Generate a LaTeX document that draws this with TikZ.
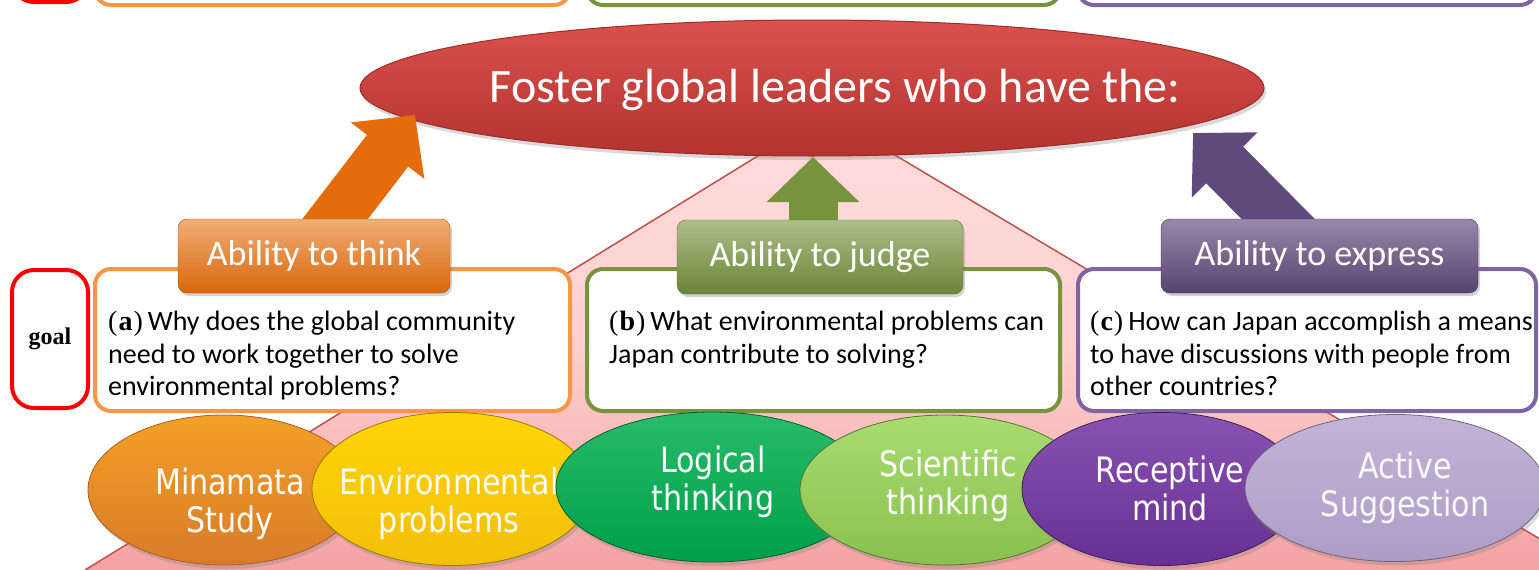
\documentclass[tikz,border=0pt]{standalone}
\usepackage{fontspec}
\setmainfont{Carlito}
\newfontfamily\bubblefont[FakeStretch=0.86]{DejaVu Sans}
\newfontfamily\markfont{Liberation Serif}
\usetikzlibrary{shapes.geometric, arrows.meta, positioning, shadows}

\definecolor{pinktop}{HTML}{FFDCDC}
\definecolor{pinkbottom}{HTML}{F5A2A2}
\definecolor{pinkedge}{HTML}{C0504D}
\definecolor{titletop}{HTML}{DA514D}
\definecolor{titlebottom}{HTML}{B3332F}
\definecolor{titleedge}{HTML}{A02B28}
\definecolor{thinkorange}{HTML}{E46C0A}
\definecolor{judgegreen}{HTML}{77933C}
\definecolor{expresspurple}{HTML}{604A7B}
\definecolor{qorange}{HTML}{F79646}
\definecolor{qgreen}{HTML}{77933C}
\definecolor{qpurple}{HTML}{8064A2}
\definecolor{minamatacol}{HTML}{F0892F}
\definecolor{envircol}{HTML}{FFC90A}
\definecolor{logiccol}{HTML}{00B050}
\definecolor{sciencecol}{HTML}{98D656}
\definecolor{receptcol}{HTML}{7334A4}
\definecolor{activecol}{HTML}{B7A6D0}

\tikzset{
  question/.style={draw, line width=4pt, rounded corners=16pt, fill=white, inner sep=0pt},
  goalbox/.style={draw=red, line width=4pt, rounded corners=22pt, inner sep=0pt,
    minimum width=76pt},
  qtext/.style={anchor=north west, align=left, inner sep=0pt,
    font=\fontsize{28}{32.5}\selectfont},
  ability/.style={rounded corners=9pt, minimum height=74pt, text=white,
    font=\fontsize{36}{40}\selectfont,
    drop shadow={opacity=0.35, shadow xshift=2pt, shadow yshift=-3pt}},
  bubble/.style={ellipse, inner sep=0pt, line width=0.8pt,
    drop shadow={opacity=0.3, shadow xshift=2pt, shadow yshift=-4pt}},
  btext/.style={text=white, align=center, inner sep=0pt,
    font=\bubblefont\fontsize{35}{38}\selectfont},
  bigarrow/.style={line width=52pt, -{Triangle[length=45pt, width=90pt]}}
}
\newcommand{\qmark}[1]{{\markfont(\hspace{1pt}\textbf{#1}\hspace{1pt})}\hspace{5pt}}

\begin{document}
\begin{tikzpicture}[x=1pt, y=-1pt]
\useasboundingbox (0,0) rectangle (1539,570);
\clip (0,0) rectangle (1539,570);

% pink pyramid behind everything
\coordinate (apex) at (826,114);
\coordinate (leftfoot) at (85,570);
\coordinate (rightfoot) at (1592,570);
\fill[top color=pinktop, bottom color=pinkbottom, middle color=pinktop!80!pinkbottom]
  (apex) -- (leftfoot) -- (rightfoot) -- cycle;
\draw[pinkedge, line width=1.5pt] (leftfoot) -- (apex) -- (rightfoot);

% row above, cut by the top edge
\node[goalbox, minimum height=146pt] (upgoal) at (50,-71) {};
\node[question, draw=qorange, minimum width=475pt, minimum height=146pt] (upa) at (332.5,-68) {};
\node[question, draw=qgreen, minimum width=473pt, minimum height=146pt] (upb) at (823.5,-68) {};
\node[question, draw=qpurple, minimum width=458pt, minimum height=146pt] (upc) at (1307,-68) {};

% goal on top
\node[ellipse, minimum width=904pt, minimum height=136pt, inner sep=0pt, draw=titleedge,
  line width=1pt, top color=titletop, bottom color=titlebottom,
  drop shadow={opacity=0.3, shadow xshift=2pt, shadow yshift=-4pt}] (title) at (812,88) {};
\node[text=white, font=\fontsize{48}{52}\selectfont] (titletext) at (835,90)
  {Foster global leaders who have the:};

% arrows up to the title
\coordinate (thinkfoot) at (319,240);
\coordinate (thinktip) at (415,115);
\coordinate (judgefoot) at (813,240);
\coordinate (judgetip) at (813,157);
\coordinate (expressfoot) at (1299,240);
\coordinate (expresstip) at (1193,133);
\draw[bigarrow, thinkorange] (thinkfoot) -- (thinktip);
\draw[bigarrow, judgegreen, line width=49pt] (judgefoot) -- (judgetip);
\draw[bigarrow, expresspurple] (expressfoot) -- (expresstip);

% questions
\node[goalbox, minimum height=138pt, font=\markfont\bfseries\fontsize{24}{26}\selectfont]
  (goal) at (50,339) {goal};
\node[question, draw=qorange, minimum width=475pt, minimum height=142pt] (qa) at (332.5,340) {};
\node[question, draw=qgreen, minimum width=473pt, minimum height=142pt] (qb) at (823.5,340) {};
\node[question, draw=qpurple, minimum width=458pt, minimum height=142pt] (qc) at (1307,340) {};

\node[qtext] (qatext) at (108,311) {\qmark{a}Why does the global community\\
  need to work together to solve\\environmental problems?};
\node[qtext] (qbtext) at (609,311) {\qmark{b}What environmental problems can\\
  Japan contribute to solving?};
\node[qtext] (qctext) at (1090,311) {\qmark{c}How can Japan accomplish a means\\
  to have discussions with people from\\other countries?};

% abilities
\node[ability, top color=thinkorange!55!white, middle color=thinkorange!85!yellow,
  bottom color=thinkorange!95!black, draw=thinkorange!75!black,
  minimum width=272pt] (think) at (314,256) {Ability to think};
\node[ability, top color=judgegreen!60!white, middle color=judgegreen!95!white,
  bottom color=judgegreen!90!black, draw=judgegreen!75!black,
  minimum width=286pt] (judge) at (820,257) {Ability to judge};
\node[ability, top color=expresspurple!65!white, middle color=expresspurple,
  bottom color=expresspurple!90!black, draw=expresspurple!75!black,
  minimum width=317pt] (express) at (1319.5,256) {Ability to express};

% skills
\node[bubble, minimum width=272pt, minimum height=150pt, top color=minamatacol!80!yellow,
  bottom color=minamatacol!90!black, draw=minamatacol!70!black] (minamata) at (224,490) {};
\node[btext] (minamatatext) at (230,504) {Minamata\\Study};
\node[bubble, minimum width=280pt, minimum height=153pt, top color=envircol!80!yellow,
  bottom color=envircol!95!black, draw=envircol!60!black] (envir) at (452,489) {};
\node[btext] (envirtext) at (449,504) {Environmental\\problems};
\node[bubble, minimum width=312pt, minimum height=150pt, top color=logiccol!85!white,
  bottom color=logiccol!90!black, draw=logiccol!55!black] (logic) at (712,487) {};
\node[btext] (logictext) at (713,482) {Logical\\thinking};
\node[bubble, minimum width=290pt, minimum height=150pt, top color=sciencecol!85!white,
  bottom color=sciencecol!90!black, draw=sciencecol!55!black] (science) at (945,490) {};
\node[btext] (sciencetext) at (948,486) {Scientific\\thinking};
\node[bubble, minimum width=280pt, minimum height=153pt, top color=receptcol!85!white,
  bottom color=receptcol!90!black, draw=receptcol!55!black] (recept) at (1162,489) {};
\node[btext] (recepttext) at (1170,488) {Receptive\\mind};
\node[bubble, minimum width=300pt, minimum height=147pt, top color=activecol!85!white,
  bottom color=activecol!95!black, draw=activecol!60!black] (active) at (1395,488) {};
\node[btext, text=white!92!activecol] (activetext) at (1405,488) {Active\\Suggestion};

\end{tikzpicture}
\end{document}
